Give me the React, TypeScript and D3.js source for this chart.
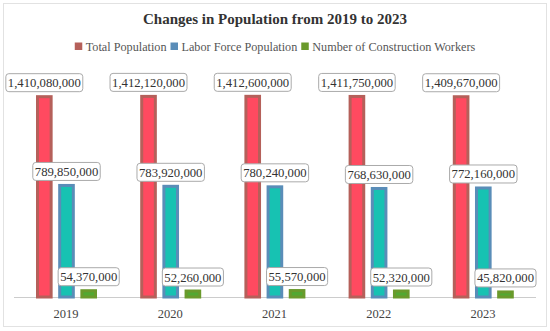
import React, { useRef, useEffect } from "react";
import * as d3 from "d3";

const years = ["2019", "2020", "2021", "2022", "2023"];
const totalPopulation = [1410080000, 1412120000, 1412600000, 1411750000, 1409670000];
const laborForce = [789850000, 783920000, 780240000, 768630000, 772160000];
const constructionWorkers = [54370000, 52260000, 55570000, 52320000, 45820000];
const seriesNames = ["Total Population", "Labor Force Population", "Number of Construction Workers"];
const strokeColors = ["#b5605a", "#5a8db8", "#6a9a2c"];
const fillColors = ["#ff4a60", "#17c2b2", "#52a832"];

const FONT = "'Times New Roman', 'Liberation Serif', Times, serif";

const App = () => {
  const chartRef = useRef<SVGSVGElement | null>(null);

  useEffect(() => {
    if (!chartRef.current) return;
    const width = 550;
    const svg = d3.select(chartRef.current);
    svg.selectAll("*").remove();

    svg.append("rect")
      .attr("x", 3.5).attr("y", 3.5)
      .attr("width", 543).attr("height", 323)
      .attr("fill", "#fff")
      .attr("stroke", "#e2e2e2");

    svg.append("text")
      .attr("x", width / 2).attr("y", 24)
      .attr("text-anchor", "middle")
      .attr("font-family", FONT)
      .attr("font-size", 15)
      .attr("font-weight", "bold")
      .attr("fill", "#333")
      .text("Changes in Population from 2019 to 2023");

    // legend
    const legend = svg.append("g").attr("font-family", FONT).attr("font-size", 12.2);
    let lx = 0;
    seriesNames.forEach((name, i) => {
      const g = legend.append("g");
      g.append("rect").attr("x", lx).attr("y", 42.5).attr("width", 7.5).attr("height", 7.5).attr("fill", strokeColors[i]);
      const t = g.append("text").attr("x", lx + 11).attr("y", 50.5).attr("fill", "#555").text(name);
      const w = (t.node() as SVGTextElement).getComputedTextLength();
      lx += 11 + w + 4;
    });
    const legendWidth = lx - 4;
    legend.attr("transform", `translate(${(width - legendWidth) / 2},0)`);

    const x0 = d3.scaleBand().domain(years).range([14, 535]).paddingInner(0).paddingOuter(0);
    const x1 = d3.scaleBand().domain(["0", "1", "2"]).range([22, 83]).paddingInner(0.25).paddingOuter(0);
    const y = d3.scaleLinear().domain([0, 1600000000]).range([297, 68]);

    svg.append("line")
      .attr("x1", 14).attr("x2", 536)
      .attr("y1", 297.5).attr("y2", 297.5)
      .attr("stroke", "#ccc");

    const allSeries = [totalPopulation, laborForce, constructionWorkers];
    const fmt = d3.format(",");

    years.forEach((yr, j) => {
      const g = svg.append("g").attr("transform", `translate(${x0(yr)},0)`);
      allSeries.forEach((vals, i) => {
        const bx = x1(String(i)) as number;
        const bw = x1.bandwidth();
        const top = y(vals[j]);
        g.append("rect")
          .attr("x", bx + 1.5).attr("y", top + 1.5)
          .attr("width", bw - 3).attr("height", Math.max(0, y(0) - top - 1.5))
          .attr("fill", fillColors[i])
          .attr("stroke", strokeColors[i])
          .attr("stroke-width", 3);
      });
    });

    // labels drawn after bars
    years.forEach((yr, j) => {
      const g = svg.append("g").attr("transform", `translate(${x0(yr)},0)`);
      allSeries.forEach((vals, i) => {
        const cx = (x1(String(i)) as number) + x1.bandwidth() / 2;
        const top = y(vals[j]);
        const lg = g.append("g");
        const t = lg.append("text")
          .attr("x", cx).attr("y", top - 8)
          .attr("text-anchor", "middle")
          .attr("font-family", FONT)
          .attr("font-size", 12.7)
          .attr("fill", "#333")
          .text(fmt(vals[j]));
        const w = (t.node() as SVGTextElement).getComputedTextLength();
        lg.insert("rect", "text")
          .attr("x", cx - w / 2 - 2).attr("y", top - 21.5)
          .attr("width", w + 4).attr("height", 18)
          .attr("rx", 3)
          .attr("fill", "#fff")
          .attr("stroke", "#aaa");
      });
    });

    svg.append("g")
      .selectAll("text")
      .data(years)
      .enter()
      .append("text")
      .attr("x", d => (x0(d) as number) + x0.bandwidth() / 2)
      .attr("y", 318)
      .attr("text-anchor", "middle")
      .attr("font-family", FONT)
      .attr("font-size", 12.5)
      .attr("fill", "#444")
      .text(d => d);
  }, []);

  return (
    <div style={{ position: "absolute", left: 0, top: 0 }}>
      <svg ref={chartRef} width={550} height={331} style={{ display: "block" }}></svg>
    </div>
  );
};

export default App;
